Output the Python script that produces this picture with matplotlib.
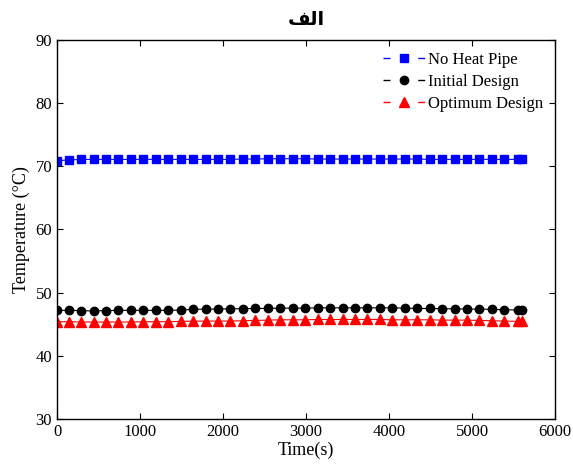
import matplotlib
matplotlib.use("Agg")
import matplotlib.pyplot as plt
from matplotlib.lines import Line2D

TITLE = "الف"
x_label = "Time(s)"
y_label = "Temperature (°C)"
series_names = ["No Heat Pipe", "Initial Design", "Optimum Design"]

time_s = [0, 140, 290, 440, 590, 740, 890, 1040, 1190, 1340, 1490, 1640, 1790,
          1940, 2090, 2240, 2390, 2540, 2690, 2840, 2990, 3140, 3290, 3440,
          3590, 3740, 3890, 4040, 4190, 4340, 4490, 4640, 4790, 4940, 5090,
          5240, 5390, 5550, 5600]

no_heat_pipe = [70.9, 71.0, 71.1, 71.1, 71.1, 71.1, 71.1, 71.1, 71.1, 71.1,
                71.1, 71.1, 71.1, 71.1, 71.1, 71.15, 71.15, 71.2, 71.2, 71.2,
                71.2, 71.15, 71.15, 71.15, 71.15, 71.15, 71.15, 71.15, 71.15,
                71.15, 71.1, 71.1, 71.1, 71.1, 71.1, 71.1, 71.1, 71.1, 71.1]

initial_design = [47.2, 47.2, 47.15, 47.1, 47.15, 47.2, 47.2, 47.2, 47.2, 47.2,
                  47.25, 47.35, 47.4, 47.4, 47.45, 47.45, 47.5, 47.5, 47.55,
                  47.55, 47.55, 47.6, 47.6, 47.6, 47.6, 47.6, 47.6, 47.6,
                  47.55, 47.5, 47.5, 47.45, 47.45, 47.4, 47.4, 47.35, 47.3,
                  47.25, 47.25]

optimum_design = [45.4, 45.4, 45.35, 45.35, 45.35, 45.35, 45.35, 45.4, 45.4,
                  45.4, 45.45, 45.5, 45.5, 45.5, 45.5, 45.55, 45.6, 45.65,
                  45.7, 45.7, 45.7, 45.75, 45.75, 45.75, 45.75, 45.75, 45.75,
                  45.7, 45.7, 45.7, 45.7, 45.65, 45.65, 45.65, 45.6, 45.55,
                  45.5, 45.45, 45.45]

x_ticks = [0, 1000, 2000, 3000, 4000, 5000, 6000]
y_ticks = [30, 40, 50, 60, 70, 80, 90]

colors = ["#0000ff", "#000000", "#ff0000"]
markers = ["s", "o", "^"]

# visual shaping for Arabic title (presentation forms, visual order)
_forms = {"ف": "\ufed2", "ل": "\ufedf", "ا": "\ufe8d"}
def shape_title(t):
    return "".join(_forms.get(c, c) for c in reversed(t))

plt.rcParams["font.family"] = ["Liberation Serif", "DejaVu Sans"]

fig = plt.figure(figsize=(5.73, 4.66), dpi=100)
ax = fig.add_axes([0.0995, 0.1009, 0.8691, 0.8133])

series = [no_heat_pipe, initial_design, optimum_design]
handles = []
for vals, c, m, name in zip(series, colors, markers, series_names):
    ms = 6.5 if m == "^" else 6
    ax.plot(time_s, vals, linestyle="-", linewidth=0.8, color=c, marker=m,
            markersize=ms, markerfacecolor=c, markeredgecolor=c)
    handles.append(Line2D([], [], color=c, linestyle=(0, (5, 20)), linewidth=1,
                          marker=m, markersize=ms, markerfacecolor=c,
                          markeredgecolor=c))

ax.set_xlim(0, 6000)
ax.set_ylim(30, 90)
ax.set_xticks(x_ticks)
ax.set_yticks(y_ticks)
ax.tick_params(direction="in", top=True, right=True, labelsize=12, length=4,
               width=0.8)
for s in ax.spines.values():
    s.set_linewidth(1)
ax.set_xlabel(x_label, fontsize=13, labelpad=1)
ax.set_ylabel(y_label, fontsize=13, labelpad=4)
ax.set_title(shape_title(TITLE), fontsize=14, fontweight="bold",
             family="DejaVu Sans", pad=11)

ax.legend(handles, series_names, loc="upper right", frameon=False, fontsize=12,
          handlelength=2.5, handletextpad=0.2, labelspacing=0.38,
          borderaxespad=0.3, bbox_to_anchor=(1.0, 1.0))

fig.savefig("out.png", dpi=100)
